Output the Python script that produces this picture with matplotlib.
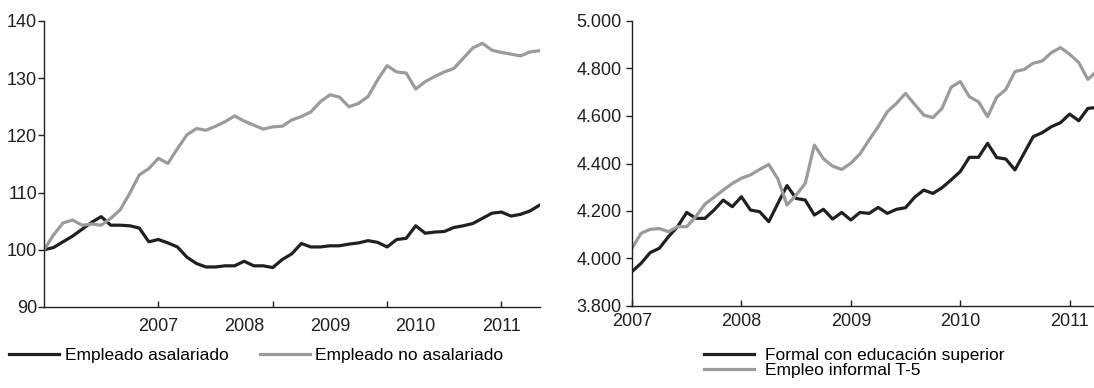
import numpy as np
import matplotlib
matplotlib.use("Agg")
import matplotlib.pyplot as plt
from matplotlib.ticker import FuncFormatter

plt.rcParams['font.family'] = ['Liberation Sans', 'DejaVu Sans']

# indice de empleo (base 100), serie mensual
asalariado = [100.0, 100.4, 101.4, 102.4, 103.6, 104.8, 105.8, 104.3, 104.3, 104.2,
              103.8, 101.4, 101.8, 101.2, 100.5, 98.7, 97.6, 97.0, 97.0, 97.2,
              97.2, 98.0, 97.2, 97.2, 96.9, 98.3, 99.3, 101.1, 100.5, 100.5,
              100.7, 100.7, 101.0, 101.2, 101.6, 101.3, 100.5, 101.8, 102.0, 104.2,
              102.9, 103.1, 103.2, 103.9, 104.2, 104.6, 105.5, 106.4, 106.6, 105.9,
              106.2, 106.8, 107.8]
no_asalariado = [100.0, 102.6, 104.7, 105.2, 104.3, 104.5, 104.3, 105.5, 107.0, 109.9,
                 113.1, 114.2, 116.0, 115.1, 117.7, 120.1, 121.2, 120.9, 121.6, 122.4,
                 123.4, 122.5, 121.8, 121.1, 121.5, 121.6, 122.7, 123.3, 124.1, 125.9,
                 127.1, 126.7, 125.0, 125.6, 126.8, 129.7, 132.2, 131.1, 130.9, 128.1,
                 129.4, 130.3, 131.1, 131.7, 133.5, 135.3, 136.1, 134.9, 134.5, 134.2,
                 133.9, 134.6, 134.8]

# ingresos (miles), serie mensual desde enero 2007
formal_sup = [3945, 3980, 4025, 4043, 4092, 4134, 4194, 4169, 4169, 4204,
              4246, 4218, 4260, 4204, 4197, 4155, 4232, 4307, 4253, 4246,
              4183, 4207, 4166, 4194, 4162, 4194, 4190, 4215, 4190, 4207,
              4214, 4258, 4288, 4274, 4298, 4331, 4366, 4426, 4426, 4485,
              4425, 4419, 4373, 4443, 4513, 4530, 4555, 4572, 4608, 4580,
              4632, 4636]
informal_t5 = [4043, 4106, 4123, 4126, 4113, 4134, 4134, 4176, 4229, 4258,
               4288, 4316, 4338, 4352, 4375, 4396, 4335, 4225, 4267, 4316,
               4478, 4420, 4389, 4375, 4401, 4440, 4499, 4555, 4618, 4653,
               4695, 4649, 4604, 4593, 4632, 4721, 4745, 4681, 4660, 4597,
               4679, 4712, 4787, 4796, 4822, 4832, 4867, 4888, 4860, 4825,
               4754, 4790]

left_ticks = [12, 24, 36, 48]
left_label_pos = [12, 21, 30, 39, 48]
years = ['2007', '2008', '2009', '2010', '2011']
right_ticks = [0, 12, 24, 36, 48]

dark = '#231f20'
grey = '#9b9b9b'
lw = 2.3

fig = plt.figure(figsize=(10.94, 3.88), dpi=100)

ax1 = fig.add_axes([44 / 1094, 81 / 388, 495.6 / 1094, 286 / 388])
x1 = np.arange(len(asalariado))
ax1.plot(x1, asalariado, color=dark, lw=lw, label='Empleado asalariado')
ax1.plot(x1, no_asalariado, color=grey, lw=lw, label='Empleado no asalariado')
ax1.set_xlim(0, 52)
ax1.set_ylim(90, 140)
ax1.set_yticks(np.arange(90, 141, 10))
ax1.xaxis.remove_overlapping_locs = False
ax1.set_xticks(left_ticks)
ax1.set_xticklabels([])
ax1.set_xticks(left_label_pos, minor=True)
ax1.set_xticklabels(years, minor=True)
ax1.tick_params(axis='x', which='major', direction='in', length=4, width=1, color=dark)
ax1.tick_params(axis='x', which='minor', length=0, pad=8, labelsize=13, labelcolor=dark)
ax1.tick_params(axis='y', direction='out', length=4, width=1, pad=1,
                labelsize=13, labelcolor=dark, color=dark)
ax1.legend(loc='upper left', bbox_to_anchor=(-35 / 495.6, -0.143), ncol=2,
           frameon=False, fontsize=12.5, handlelength=2.9, handletextpad=0.3,
           columnspacing=1.8, borderaxespad=0, borderpad=0)

ax2 = fig.add_axes([632 / 1094, 82 / 388, 465 / 1094, 285 / 388])
x2 = np.arange(len(formal_sup))
ax2.plot(x2, formal_sup, color=dark, lw=lw, label='Formal con educación superior')
ax2.plot(x2, informal_t5, color=grey, lw=lw, label='Empleo informal T-5')
ax2.set_xlim(0, 51)
ax2.set_ylim(3800, 5000)
ax2.set_yticks(np.arange(3800, 5001, 200))
ax2.yaxis.set_major_formatter(FuncFormatter(lambda v, p: f'{v:,.0f}'.replace(',', '.')))
ax2.set_xticks(right_ticks)
ax2.set_xticklabels(years)
ax2.tick_params(axis='x', direction='in', length=4, width=1, pad=5,
                labelsize=13, labelcolor=dark, color=dark)
ax2.tick_params(axis='y', direction='out', length=4, width=1, pad=3.5,
                labelsize=13, labelcolor=dark, color=dark)
ax2.legend(loc='upper left', bbox_to_anchor=(72 / 465, -0.147), ncol=1,
           frameon=False, fontsize=12.5, handlelength=2.9, handletextpad=0.6,
           labelspacing=0.0, borderaxespad=0, borderpad=0)

for ax in (ax1, ax2):
    ax.spines['top'].set_visible(False)
    ax.spines['right'].set_visible(False)
    ax.spines['left'].set_color(dark)
    ax.spines['bottom'].set_color(dark)
    ax.spines['left'].set_linewidth(1)
    ax.spines['bottom'].set_linewidth(1)

fig.savefig('out.png', dpi=100)
